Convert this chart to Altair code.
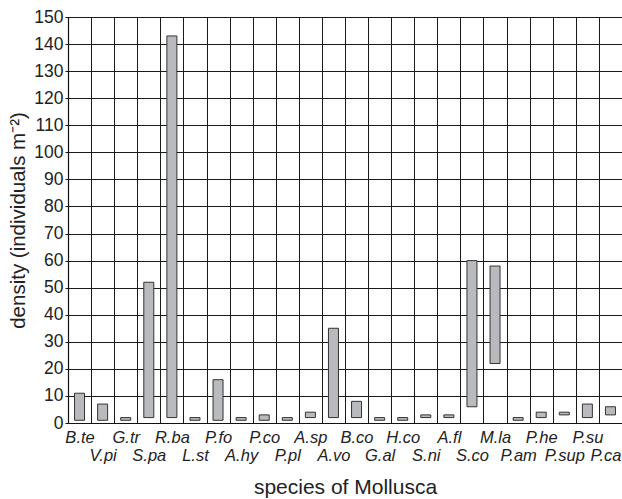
import altair as alt
import pandas as pd

# Mollusc species (abbreviated) and their density range, individuals per m^2
species = ["B.te", "V.pi", "G.tr", "S.pa", "R.ba", "L.st", "P.fo", "A.hy",
           "P.co", "P.pl", "A.sp", "A.vo", "B.co", "G.al", "H.co", "S.ni",
           "A.fl", "S.co", "M.la", "P.am", "P.he", "P.sup", "P.su", "P.ca"]
density_min = [1, 1, 1, 2, 2, 1, 1, 1, 1, 1, 2, 2, 2, 1, 1, 2,
               2, 6, 22, 1, 2, 3, 2, 3]
density_max = [11, 7, 2, 52, 143, 2, 16, 2, 3, 2, 4, 35, 8, 2, 2, 3,
               3, 60, 58, 2, 4, 4, 7, 6]
y_ticks = list(range(0, 151, 10))

df = pd.DataFrame({"species": species, "low": density_min, "high": density_max})

FONT = "Liberation Sans"

# every second label is pushed onto a second line so the names stagger
stagger = ("indexof(['" + "','".join(species[1::2]) + "'], datum.value) >= 0"
           " ? ['', datum.value] : datum.value")

chart = alt.Chart(df).mark_bar(
    size=10, fill="#b9babd", stroke="#333333", strokeWidth=1
).encode(
    x=alt.X(
        "species:N",
        sort=species,
        scale=alt.Scale(paddingInner=0, paddingOuter=0),
        axis=alt.Axis(
            title="species of Mollusca",
            titleFont=FONT, titleFontSize=21, titleFontWeight="normal",
            titleColor="#222222", titlePadding=12,
            labelExpr=stagger, labelAngle=0, labelFont=FONT,
            labelFontSize=16.5, labelFontStyle="italic", labelColor="#222222",
            labelBaseline="top", labelLineHeight=18.5, labelPadding=6,
            labelOverlap=False,
            labelOffset={"condition": {"test": "datum.value == 'P.ca'", "value": -5},
                         "value": 0},
            ticks=False, tickBand="extent",
            grid=True, gridColor="#1a1a1a", gridWidth=1, gridOpacity=1,
            domainColor="#111111", domainWidth=1.2,
        ),
    ),
    y=alt.Y(
        "low:Q",
        scale=alt.Scale(domain=[0, 150], nice=False),
        axis=alt.Axis(
            values=y_ticks,
            title="density (individuals m⁻²)",
            titleFont=FONT, titleFontSize=20.5, titleFontWeight="normal",
            titleColor="#222222", titlePadding=5,
            labelFont=FONT, labelFontSize=17.5, labelColor="#222222",
            labelPadding=2, tickSize=3, tickColor="#111111",
            grid=True, gridColor="#1a1a1a", gridWidth=1, gridOpacity=1,
            domainColor="#111111", domainWidth=1.2,
        ),
    ),
    y2="high:Q",
).properties(
    width=554,
    height=406,
    padding={"left": 68, "top": 17, "right": 0, "bottom": 76},
    autosize=alt.AutoSizeParams(type="none"),
).configure_view(stroke=None).configure(background="white")

chart.save("out.html", embed_options={"renderer": "svg", "actions": False})
